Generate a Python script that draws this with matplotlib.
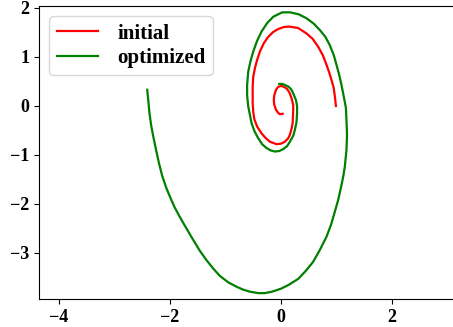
import matplotlib
matplotlib.use("Agg")
import matplotlib.pyplot as plt

# ---- data ----
initial_x = [0.99, 0.97, 0.95, 0.91, 0.87, 0.82, 0.76, 0.67, 0.57, 0.46, 0.31, 0.15,
             0.05, -0.05, -0.14, -0.23, -0.31, -0.38, -0.43, -0.47, -0.50, -0.51, -0.51,
             -0.51, -0.50, -0.48, -0.43, -0.35, -0.28, -0.20, -0.08, 0.00, 0.07, 0.13,
             0.16, 0.19, 0.21, 0.22, 0.22, 0.19, 0.15, 0.10, 0.01, -0.05, -0.09, -0.12,
             -0.13, -0.12, -0.09, -0.05, -0.02, 0.03]
initial_y = [0.00, 0.20, 0.37, 0.53, 0.68, 0.84, 1.02, 1.21, 1.37, 1.48, 1.59, 1.62,
             1.61, 1.57, 1.51, 1.41, 1.28, 1.11, 0.94, 0.77, 0.59, 0.39, 0.22, 0.06,
             -0.12, -0.27, -0.42, -0.56, -0.65, -0.73, -0.78, -0.77, -0.73, -0.66,
             -0.59, -0.47, -0.35, -0.12, 0.02, 0.16, 0.28, 0.36, 0.41, 0.39, 0.33, 0.22,
             0.12, 0.02, -0.08, -0.14, -0.17, -0.16]

optimized_x = [-2.41, -2.39, -2.37, -2.34, -2.30, -2.25, -2.20, -2.14, -2.06, -1.99,
               -1.92, -1.84, -1.76, -1.61, -1.46, -1.34, -1.22, -1.10, -0.95, -0.80,
               -0.68, -0.56, -0.41, -0.29, -0.16, 0.00, 0.14, 0.31, 0.46, 0.58, 0.70,
               0.82, 0.90, 0.97, 1.03, 1.08, 1.12, 1.15, 1.18, 1.19, 1.18, 1.17, 1.13,
               1.09, 1.05, 1.00, 0.95, 0.88, 0.80, 0.70, 0.59, 0.46, 0.32, 0.17, 0.02,
               -0.14, -0.25, -0.35, -0.43, -0.50, -0.55, -0.59, -0.61, -0.61, -0.59,
               -0.56, -0.53, -0.48, -0.41, -0.34, -0.26, -0.18, -0.11, -0.03, 0.04,
               0.11, 0.16, 0.22, 0.25, 0.28, 0.29, 0.29, 0.27, 0.23, 0.19, 0.14, 0.07,
               0.02, -0.03]
optimized_y = [0.33, 0.10, -0.14, -0.39, -0.63, -0.90, -1.16, -1.43, -1.69, -1.88,
               -2.06, -2.23, -2.39, -2.68, -2.96, -3.15, -3.32, -3.47, -3.60, -3.69,
               -3.75, -3.79, -3.82, -3.82, -3.79, -3.73, -3.65, -3.53, -3.35, -3.18,
               -2.94, -2.67, -2.43, -2.16, -1.92, -1.67, -1.45, -1.24, -0.90, -0.59,
               -0.29, -0.04, 0.20, 0.43, 0.63, 0.84, 1.04, 1.24, 1.41, 1.55, 1.68, 1.79,
               1.87, 1.91, 1.91, 1.82, 1.69, 1.52, 1.33, 1.11, 0.91, 0.70, 0.43, 0.22,
               -0.01, -0.18, -0.35, -0.51, -0.66, -0.78, -0.86, -0.91, -0.93, -0.92,
               -0.88, -0.82, -0.73, -0.61, -0.49, -0.33, -0.15, 0.00, 0.12, 0.23, 0.33,
               0.39, 0.43, 0.45, 0.45]

series_labels = ["initial", "optimized"]
x_ticks = [-4, -2, 0, 2]
y_ticks = [-3, -2, -1, 0, 1, 2]

plt.rcParams['font.family'] = ['Liberation Serif', 'DejaVu Serif']
plt.rcParams['font.weight'] = 'bold'

W, H = 453, 327
fig = plt.figure(figsize=(W / 100, H / 100), dpi=100)
xmin, xmax = -4.36, 3.6
ymin, ymax = -3.94, 2.04
px_per_x = 55.5
ax = fig.add_axes([39 / W, 28 / H, (xmax - xmin) * px_per_x / W, 293 / H])

ax.plot(initial_x, initial_y, color='red', lw=1.6, label=series_labels[0],
        solid_joinstyle='round')
ax.plot(optimized_x, optimized_y, color='green', lw=1.6, label=series_labels[1],
        solid_joinstyle='round')

ax.set_xlim(xmin, xmax)
ax.set_ylim(ymin, ymax)
ax.set_xticks(x_ticks)
ax.set_yticks(y_ticks)
ax.tick_params(labelsize=13)
for lab in ax.get_xticklabels() + ax.get_yticklabels():
    lab.set_fontweight('bold')

leg = ax.legend(loc='upper left', prop={'weight': 'bold', 'size': 15},
                labelspacing=0.2, borderpad=0.35, handletextpad=0.9)

fig.savefig('out.png', dpi=100)
